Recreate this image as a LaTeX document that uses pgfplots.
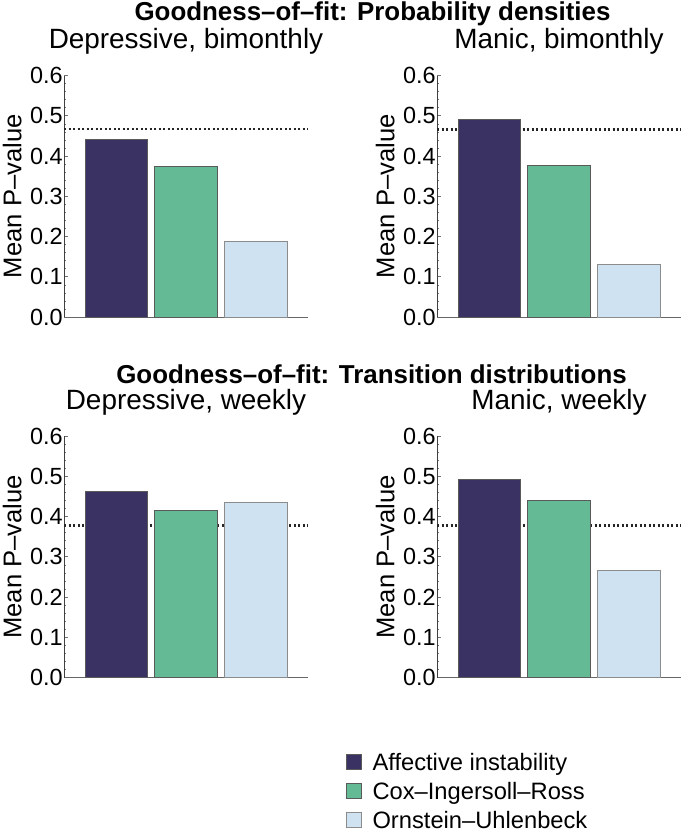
\documentclass[border=0pt]{standalone}
\usepackage{pgfplots}
\pgfplotsset{compat=1.18}
\usepackage{fontspec}
\setmainfont{Liberation Sans}
\definecolor{cAI}{RGB}{59,50,100}
\definecolor{cCIR}{RGB}{99,186,148}
\definecolor{cOU}{RGB}{207,226,241}
\definecolor{edge}{RGB}{90,90,90}
\pgfplotsset{
  panel/.style={
    scale only axis, width=244bp, height=241.5bp,
    xmin=0.25, xmax=3.75, ymin=0, ymax=0.6,
    axis x line=bottom, axis y line=left,
    x axis line style={-, draw=black!60, line width=0.9bp},
    y axis line style={-, draw=black!75, line width=0.8bp},
    xtick=\empty,
    ytick={0,0.1,...,0.6}, minor y tick num=4,
    tick align=inside, ytick pos=left,
    major tick length=4bp, minor tick length=2bp,
    every tick/.style={draw=black!55, line width=0.6bp},
    yticklabel style={font=\fontsize{23.5}{27}\selectfont, inner sep=1.2bp, /pgf/number format/.cd, fixed, fixed zerofill, precision=1, assume math mode=true},
    ylabel={Mean P–value},
    ylabel style={font=\fontsize{25.7}{29}\selectfont, at={(axis description cs:-0.212,0.5)}, anchor=center},
    title style={font=\fontsize{28}{32}\selectfont, at={(axis description cs:0.5,1)}, anchor=base, yshift=21bp},
    ybar, bar width=0.9, bar shift=0pt,
    clip=false,
  },
  ref/.style={no marks, sharp plot, draw=black!85, line width=2.2bp, dash pattern=on 2.2bp off 2.3bp, forget plot},
  bAI/.style={fill=cAI, draw=edge, line width=0.7bp},
  bCIR/.style={fill=cCIR, draw=edge, line width=0.7bp},
  bOU/.style={fill=cOU, draw=black!45, line width=0.7bp},
}
\begin{document}
\begin{tikzpicture}
\path[use as bounding box] (0,0) rectangle (685bp,-834bp);
\node[anchor=base, font=\fontsize{26}{30}\selectfont\bfseries] at (372.5bp,-20.5bp) {Goodness–of–fit: Probability densities};
\node[anchor=base, font=\fontsize{26}{30}\selectfont\bfseries] at (371.5bp,-383bp) {Goodness–of–fit: Transition distributions};

\begin{axis}[panel, at={(64bp,-317bp)}, anchor=south west, title={Depressive, bimonthly}]
\addplot[ref] coordinates {(0.25,0.467) (3.75,0.467)};
\addplot[bAI] coordinates {(1,0.441)};
\addplot[bCIR] coordinates {(2,0.375)};
\addplot[bOU] coordinates {(3,0.188)};
\end{axis}

\begin{axis}[panel, at={(437bp,-317bp)}, anchor=south west, title={Manic, bimonthly}]
\addplot[ref] coordinates {(0.25,0.466) (3.75,0.466)};
\addplot[bAI] coordinates {(1,0.490)};
\addplot[bCIR] coordinates {(2,0.377)};
\addplot[bOU] coordinates {(3,0.132)};
\end{axis}

\begin{axis}[panel, at={(64bp,-677.5bp)}, anchor=south west, title={Depressive, weekly}]
\addplot[ref] coordinates {(0.25,0.3775) (3.75,0.3775)};
\addplot[bAI] coordinates {(1,0.462)};
\addplot[bCIR] coordinates {(2,0.415)};
\addplot[bOU] coordinates {(3,0.436)};
\end{axis}

\begin{axis}[panel, at={(437bp,-677.5bp)}, anchor=south west, title={Manic, weekly},
  legend cell align=left,
  legend image code/.code={\draw[#1] (0bp,-4.5bp) rectangle (15bp,10.5bp);},
  legend style={draw=none, fill=none, at={(axis description cs:-0.3716,-0.3155)}, anchor=north west,
    inner sep=0pt, outer sep=0pt, row sep=7bp, column sep=10.5bp,
    font=\fontsize{23.8}{28}\selectfont,
    nodes={inner sep=0pt, text height=17bp, text depth=5bp}},
]
\addplot[ref] coordinates {(0.25,0.3775) (3.75,0.3775)};
\addplot[bAI] coordinates {(1,0.493)};
\addplot[bCIR] coordinates {(2,0.440)};
\addplot[bOU] coordinates {(3,0.267)};
\legend{Affective instability, Cox–Ingersoll–Ross, Ornstein–Uhlenbeck}
\end{axis}
\end{tikzpicture}
\end{document}
